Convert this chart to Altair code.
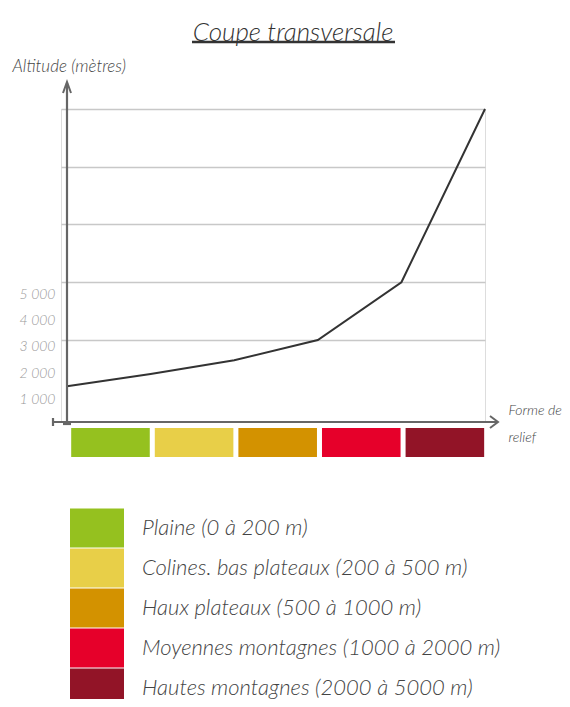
import altair as alt
import pandas as pd

# ---------------- data ----------------
relief_categories = [
    "Plaine (0 à 200 m)",
    "Colines. bas plateaux (200 à 500 m)",
    "Haux plateaux (500 à 1000 m)",
    "Moyennes montagnes (1000 à 2000 m)",
    "Hautes montagnes (2000 à 5000 m)",
]
relief_colors = ["#95c11f", "#e8cf48", "#d39200", "#e6002a", "#921427"]

profile_index = [0, 1, 2, 3, 4, 5]
profile_altitude = [200, 410, 650, 1000, 2000, 5000]

grid_values = [1000, 2000, 3000, 4000, 5000]
tick_values = [1000, 2000, 3000, 4000, 5000]

# ---------------- tables ----------------
profile = pd.DataFrame({"x": profile_index, "alt": profile_altitude})
bands = pd.DataFrame({"cat": relief_categories, "i": list(range(len(relief_categories)))})
bands["x0"] = bands["i"] + 0.05
bands["x1"] = bands["i"] + 0.99
ticks = pd.DataFrame({"lab": tick_values})
dummy = pd.DataFrame({"k": [0]})

FONT = "Lato"
AX = "#666666"
W, H = 424, 313

xscale = alt.Scale(domain=[-0.072, 5], nice=False, zero=False)
yscale = alt.Scale(domain=[-420, 5000], nice=False, zero=False)

line = alt.Chart(profile).mark_line(color="#333333", strokeWidth=2).encode(
    x=alt.X("x:Q", scale=xscale, axis=alt.Axis(
        title=["Forme de", "relief"], labels=False, ticks=False, domain=False, grid=False,
        titleX=447, titleY=-12, titleAlign="left", titleBaseline="middle",
        titleFont=FONT, titleFontSize=14, titleFontStyle="italic", titleFontWeight=300,
        titleColor="#444444", titleLineHeight=27)),
    y=alt.Y("alt:Q", scale=yscale, axis=alt.Axis(
        values=grid_values, labels=False, ticks=False, domain=False, grid=True,
        gridColor="#c8c8c8", gridWidth=1.5,
        title="Altitude (mètres)", titleAngle=0, titleX=-49, titleY=-43,
        titleAlign="left", titleBaseline="middle",
        titleFont=FONT, titleFontSize=17, titleFontStyle="italic", titleFontWeight=300,
        titleColor="#444444")),
)

tick_layer = alt.Chart(ticks).mark_point(opacity=0).encode(
    x=alt.value(0),
    y=alt.Y("lab:Q", scale=alt.Scale(domain=[137, 12061], nice=False, zero=False),
            axis=alt.Axis(orient="left", values=tick_values, grid=False, ticks=False, domain=False,
                          title=None, labelPadding=6,
                          labelExpr="replace(format(datum.value, ','), ',', ' ')",
                          labelFont=FONT, labelFontSize=14, labelFontStyle="italic",
                          labelFontWeight=300, labelColor="#999999")),
)

bars = alt.Chart(bands).mark_rect().encode(
    x=alt.X("x0:Q", scale=xscale),
    x2="x1:Q",
    y=alt.value(319),
    y2=alt.value(348),
    color=alt.Color("cat:N", sort=relief_categories,
                    scale=alt.Scale(domain=relief_categories, range=relief_colors),
                    legend=alt.Legend(
                        orient="none", legendX=16, legendY=399, title=None, padding=0,
                        symbolType="M-1.35,-0.975H1.35V0.975H-1.35Z", symbolSize=1600,
                        symbolStrokeWidth=0, symbolOpacity=1,
                        labelFont=FONT, labelFontSize=22, labelFontStyle="italic",
                        labelFontWeight=300, labelColor="#444444",
                        labelOffset=25, labelLimit=600, rowPadding=0)),
)

def rule(x, x2, y, y2, color=AX, width=2.2):
    return alt.Chart(dummy).mark_rule(color=color, strokeWidth=width).encode(
        x=alt.value(x), x2=alt.value(x2), y=alt.value(y), y2=alt.value(y2))

def arrow(x, y, path):
    return alt.Chart(dummy).mark_point(shape=path, filled=False, size=400, color=AX,
                                       strokeWidth=2, opacity=1).encode(
        x=alt.value(x), y=alt.value(y))

decor = [
    rule(6, 6, 316, -26),                 # vertical axis
    rule(-8, 437, 313, 313),              # horizontal axis
    rule(-8, -8, 309, 317),               # left end tick
    rule(2, 10, 315, 315),                # foot of vertical axis
    arrow(6, -27, "M-0.4,1.1L0,0L0.4,1.1"),
    arrow(437, 313, "M-0.8,-0.6L0,0L-0.8,0.6"),
    rule(131, 334, -67, -67, color="#333333", width=2.5),  # title underline
]

chart = alt.layer(line, tick_layer, bars, *decor).resolve_scale(y="independent").properties(
    width=W, height=H,
    title=alt.TitleParams("Coupe transversale", font=FONT, fontSize=26, fontStyle="italic",
                          fontWeight=300, color="#333333", anchor="middle", dx=20, offset=-5,
                          frame="group"),
    autosize=alt.AutoSizeParams(type="none"),
    padding={"left": 53, "top": 101, "right": 77, "bottom": 277},
).configure_view(stroke=None).configure(background="white")

chart.save("out.html", embed_options={"renderer": "svg", "actions": False})
